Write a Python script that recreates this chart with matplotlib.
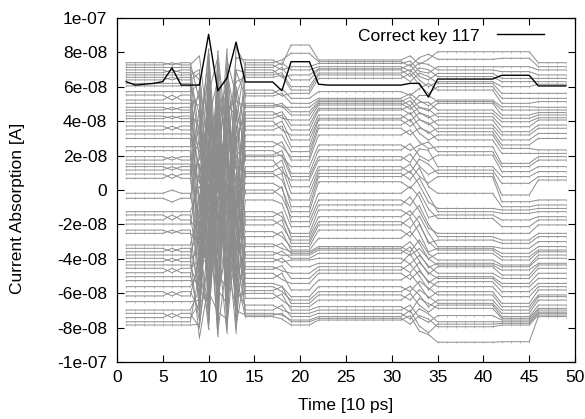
import matplotlib
matplotlib.use('Agg')
import matplotlib.pyplot as plt
import numpy as np

plt.rcParams['font.family'] = ['Liberation Sans', 'DejaVu Sans']

# ---------------- data (current in units of 1e-8 A) ----------------
time_steps = list(range(1, 50))

correct_key_label = "Correct key 117"
correct_key = [6.3, 6.1, 6.15, 6.2, 6.3, 7.1, 6.1, 6.1, 6.1, 9.05,
               5.77, 6.5, 8.6, 6.28, 6.28, 6.28, 6.28, 5.77, 7.46, 7.46,
               7.46, 6.15, 6.1, 6.1, 6.1, 6.1, 6.1, 6.1, 6.1, 6.1,
               6.1, 6.2, 6.2, 5.4, 6.45, 6.45, 6.45, 6.45, 6.45, 6.45,
               6.45, 6.67, 6.67, 6.67, 6.67, 6.05, 6.05, 6.05, 6.05]

# gray traces (other key guesses): levels per time window, same trace order
lv_t1_5 = [7.40, 7.27, 7.13, 6.98, 6.82, 6.69, 6.55, 6.40, 6.20, 6.05,
           5.72, 5.52, 5.23, 5.04, 4.81, 4.65, 4.50, 4.30, 4.15, 3.97, 3.72, 3.49, 3.26, 3.00,
           2.52, 2.29, 1.94, 1.74, 1.51, 1.36, 1.16, 0.93, 0.68,
           -0.19, -0.48,
           -1.26, -1.45, -1.74, -1.98, -2.33, -2.52,
           -3.20, -3.39, -3.59, -3.78, -3.97, -4.17, -4.36, -4.55, -4.81, -5.04, -5.27,
           -5.62, -5.91, -6.16, -6.49,
           -6.98, -7.17, -7.42, -7.66, -7.85]
lv_t6 = [7.27, 7.40, 7.13, 6.82, 6.98, 6.69, 6.40, 6.55, 6.20, 6.05,
         5.72, 5.23, 5.52, 5.04, 4.65, 4.81, 4.50, 4.15, 4.30, 3.97, 3.49, 3.72, 3.26, 3.00,
         2.52, 2.29, 1.74, 1.94, 1.51, 1.16, 1.36, 0.68, 0.93,
         0.00, -0.70,
         -1.26, -1.74, -1.45, -1.98, -2.52, -2.33,
         -3.20, -3.59, -3.39, -3.78, -4.17, -3.97, -4.36, -4.81, -4.55, -5.04, -5.27,
         -5.62, -6.16, -5.91, -6.49,
         -6.98, -7.42, -7.17, -7.66, -7.85]
lv_t7_8 = lv_t1_5
lv_t9 = [5.2, 7.8, 3.1, 6.4, -1.2, 7.0, 2.5, 6.8, 4.4, -2.9,
         6.2, 1.8, 4.9, -3.8, 5.5, 0.9, 3.6, -5.1, 4.0, 2.2, -0.6, 5.9, 1.3, -4.4,
         3.4, -6.2, 0.4, 2.8, -2.1, 1.5, -7.3, 4.7, -1.6,
         -3.3, 2.0,
         0.2, -4.9, -2.6, 1.1, -6.8, -3.0,
         -1.0, -5.6, -2.3, -8.6, -3.6, -0.3, -6.0, -4.1, -7.6, -2.0, -5.3,
         -4.6, -7.0, -3.9, -6.4,
         -5.8, -8.0, -6.6, -4.8, -7.8]
lv_t10 = [-2.4, 3.3, 7.9, -5.7, 6.1, -0.8, 8.2, 1.6, -4.0, 5.0,
          -6.9, 4.3, -1.9, 7.2, 0.6, -3.4, 6.6, 2.6, -7.7, 3.9, 5.6, -2.7, 0.1, 6.9,
          -5.0, 1.9, 7.5, -3.1, 4.6, -6.3, 2.9, -1.3, 5.3,
          -8.1, 3.6,
          -0.5, 6.3, -4.7, 1.2, 4.1, -7.2,
          2.4, -2.2, 5.8, -5.4, 0.8, -6.0, 3.0, -3.7, 1.4, -1.1, 4.8,
          -7.5, 0.3, -4.3, 2.1,
          -6.6, -2.8, -5.9, -0.1, -3.9]
lv_t11 = [6.7, -3.8, 1.0, 8.1, -6.4, 4.2, -1.5, -7.0, 7.4, 0.5,
          3.7, -5.2, 6.0, -2.5, -8.5, 5.1, -0.2, 4.5, 2.3, -6.1, 7.7, -4.2, 3.2, -1.8,
          6.5, 0.0, -3.0, 5.7, -7.9, 2.7, -4.6, 7.0, -2.0,
          1.7, -5.5,
          4.9, -0.9, 3.5, -6.7, 6.4, 0.7,
          -3.5, 2.0, -7.4, 4.0, -1.2, 5.4, -5.8, 1.3, -2.8, -8.3, 3.0,
          -0.4, -6.5, 2.6, -4.9,
          1.0, -3.2, -7.1, 0.5, -5.6]
lv_t12 = [1.5, 6.9, -4.5, 2.8, 7.6, -1.0, 5.4, 3.9, -6.3, 8.2,
          -2.2, 0.9, -5.9, 4.7, 6.2, -7.8, 2.1, -0.7, 5.8, -3.4, 1.7, 7.1, -4.8, 0.3,
          -1.6, 4.4, -8.3, 6.6, 3.1, -2.5, 5.0, -5.3, 2.4,
          -6.8, 0.6,
          -3.7, 3.6, 5.9, -1.9, -7.0, 4.1,
          -0.1, -5.0, 1.8, 6.3, -2.9, 3.3, -6.6, -0.9, 2.7, -4.1, -8.0,
          1.1, 4.8, -3.1, -5.7,
          -1.4, 2.2, -7.5, -4.3, 0.0]
lv_t13 = [7.7, 4.0, 8.3, 1.2, 5.5, 7.0, -2.1, 6.3, 3.4, -5.0,
          6.9, -0.9, 2.5, 5.2, -4.0, 3.0, -7.2, 0.8, -2.6, 6.0, -6.0, 1.9, 4.7, -3.3,
          0.5, -1.4, 5.7, -5.5, 2.0, -8.3, 4.3, -0.3, -3.8,
          3.8, -6.9,
          -2.0, 1.4, -4.6, 4.9, -0.6, -7.6,
          2.9, 0.0, -5.2, -1.8, 3.1, -6.4, 1.0, -3.0, -7.9, 0.4, -2.4,
          -4.4, 1.6, -6.2, -0.8,
          -5.8, -3.6, -1.1, -7.0, -4.9]
lv_t14_17 = [7.56, 7.40, 7.27, 7.13, 6.98, 6.82, 6.69, 6.55,
             5.81, 5.62, 5.47, 5.04, 4.90, 4.81, 4.55, 4.36, 4.17, 4.00, 3.72, 3.49, 3.20,
             2.81, 2.52, 2.29, 2.03, 1.94, 1.74, 1.36, 1.07, 0.97, 0.78, 0.39,
             0.00, -0.19, -0.58,
             -1.26, -1.55, -1.74, -2.03, -2.42, -2.71,
             -3.14, -3.29, -3.59, -3.78, -3.97, -4.17, -4.46, -4.61, -4.84, -5.14, -5.43,
             -5.62, -5.85, -6.01, -6.30,
             -6.69, -6.98, -7.17, -7.27, -7.36]
lv_t18 = [7.27, 7.56, 6.98, 7.40, 6.55, 7.13, 6.82, 6.69,
          5.47, 5.90, 5.62, 4.81, 5.04, 4.90, 4.17, 4.55, 4.36, 3.49, 4.00, 3.72, 3.20,
          2.52, 2.81, 1.94, 2.29, 2.03, 1.07, 1.74, 1.36, 0.58, 0.97, 0.10,
          -0.40, 0.20, -0.80,
          -1.55, -1.26, -2.10, -1.74, -2.71, -2.42,
          -3.40, -3.10, -3.80, -3.55, -4.20, -3.95, -4.70, -4.40, -5.20, -4.84, -5.60,
          -5.90, -5.62, -6.40, -6.05,
          -6.98, -6.69, -7.27, -7.17, -7.50]
lv_t19_21 = [8.43, 7.95, 7.17, 6.98, 6.69, 6.40, 6.01, 5.81, 5.62, 5.33,
             5.04, 4.81, 4.55, 4.36, 4.07, 3.78, 3.49, 3.20, 2.91, 2.52, 2.23, 1.94, 1.74, 1.36,
             0.97, 0.78, 0.58, 0.19, -0.19, -0.58, -0.97, -1.26, -1.55,
             -1.84, -2.13,
             -2.52, -2.71, -2.91, -3.10, -3.29, -3.49,
             -3.59, -3.68, -3.78, -3.97, -4.07, -4.46, -4.84, -5.14, -5.43, -5.81, -6.20,
             -6.40, -6.59, -6.78, -6.98,
             -7.17, -7.36, -7.56, -7.66, -7.85]
lv_t22_31 = [7.56, 7.46, 7.36, 7.17, 7.05, 6.98, 6.80, 6.69, 6.49, 5.72,
             5.33, 5.23, 5.14, 5.04, 4.94, 4.75, 4.65, 4.36, 4.17, 4.07, 3.78, 3.59, 3.20, 2.62,
             2.33, 1.94, 1.74, 1.36, 1.16, 0.97, 0.78, 0.48, -0.19,
             -0.58, -0.87,
             -1.16, -1.55, -1.84, -2.03, -2.33, -2.81,
             -3.29, -3.39, -3.49, -3.68, -3.97, -4.26, -4.46, -4.65, -4.84, -5.23, -5.62,
             -5.91, -6.10, -6.40, -6.78,
             -6.98, -7.17, -7.36, -7.46, -7.56]
lv_t32 = [7.80, 7.20, 7.50, 6.90, 7.30, 6.60, 7.00, 6.30, 6.80, 5.50,
          5.60, 4.90, 5.40, 4.70, 5.20, 4.40, 4.90, 4.00, 4.50, 3.70, 4.10, 3.20, 3.50, 2.30,
          2.70, 1.60, 2.10, 1.00, 1.50, 0.60, 1.10, 0.10, 0.20,
          -0.90, -0.40,
          -1.50, -1.20, -2.20, -1.60, -2.70, -2.40,
          -3.60, -3.00, -3.80, -3.30, -4.30, -3.70, -4.80, -4.30, -5.20, -4.90, -5.90,
          -5.60, -6.40, -6.00, -7.10,
          -6.70, -7.50, -7.00, -7.80, -7.30]
lv_t33 = [7.30, 7.70, 6.90, 7.40, 6.60, 7.10, 6.40, 6.80, 6.10, 5.90,
          5.20, 5.50, 4.80, 5.10, 4.50, 4.80, 4.10, 4.50, 3.70, 4.10, 3.30, 3.60, 2.80, 2.60,
          2.00, 2.40, 1.40, 1.80, 0.80, 1.30, 0.30, 0.70, -0.40,
          -0.10, -1.20,
          -0.90, -1.90, -1.50, -2.50, -2.00, -3.10,
          -2.90, -3.70, -3.40, -4.10, -3.80, -4.60, -4.20, -5.00, -4.70, -5.50, -5.30,
          -6.10, -5.80, -6.70, -6.30,
          -7.40, -6.90, -7.90, -7.30, -8.20]
lv_t34 = [7.60, 7.90, 6.80, 7.30, 6.40, 7.00, 6.00, 6.60, 5.60, 6.20,
          4.90, 5.50, 4.60, 5.10, 4.20, 4.70, 3.80, 4.30, 3.30, 3.90, 2.90, 3.40, 2.40, 2.80,
          1.70, 2.30, 0.90, 1.50, 0.40, 0.20, -0.70, -0.30, -1.60,
          -1.10, -2.20,
          -2.00, -3.10, -2.50, -3.60, -3.00, -4.00,
          -3.70, -4.50, -4.00, -4.90, -4.40, -5.40, -4.80, -5.80, -5.30, -6.30, -5.70,
          -6.80, -6.20, -7.10, -6.60,
          -7.70, -7.20, -8.30, -7.50, -8.40]
lv_t35_41 = [8.04, 7.60, 7.17, 6.98, 6.78, 6.59, 6.30, 6.20, 6.01, 5.81,
             5.23, 5.14, 5.04, 4.65, 4.46, 4.26, 4.07, 3.78, 3.59, 3.39, 3.20, 2.91, 2.52, 2.23,
             2.03, 1.36, 1.16, 0.97, 0.78, -0.19, -1.07, -1.26, -1.45,
             -1.65, -2.52,
             -2.71, -2.91, -3.29, -3.39, -3.49, -3.68,
             -4.07, -4.26, -4.36, -4.46, -4.84, -5.04, -5.14, -5.33, -5.62, -5.91, -6.10,
             -6.40, -6.59, -6.69, -6.88,
             -7.30, -7.66, -7.80, -7.95, -8.85]
lv_t42_45 = [8.04, 7.66, 7.17, 6.88, 6.49, 6.30, 6.01, 5.62, 5.33, 5.04,
             4.84, 4.65, 4.36, 4.17, 3.97, 3.68, 3.39, 3.20, 2.91, 2.62, 2.42, 2.13, 1.55, 1.36,
             1.07, 0.78, 0.39, -0.29, -0.68, -0.97, -1.16, -1.36, -1.74,
             -2.13, -2.52,
             -2.91, -3.10, -3.39, -3.68, -3.88, -4.07,
             -4.36, -4.46, -4.65, -4.94, -5.14, -5.43, -5.62, -5.91, -6.20, -6.59, -6.78,
             -6.98, -7.17, -7.36, -7.46,
             -7.56, -7.66, -7.75, -7.85, -8.82]
lv_t46_49 = [7.40, 7.17, 6.98, 6.69, 6.49, 6.30, 6.15, 5.62, 5.33, 5.14,
             4.81, 4.65, 4.50, 4.36, 4.20, 4.07, 3.78, 3.59, 3.29, 3.00, 2.33, 2.13, 1.94, 1.74,
             1.36, 1.07, 0.78, 0.58, -0.58, -0.87, -1.07, -1.26, -1.55,
             -1.74, -2.03,
             -2.52, -2.71, -3.00, -3.29, -3.49, -3.59,
             -3.78, -3.97, -4.26, -4.36, -4.55, -4.84, -5.14, -5.43, -5.62, -5.81, -6.10,
             -6.20, -6.40, -6.69, -6.88,
             -6.98, -7.10, -7.17, -7.27, -7.36]

# time windows (first step, last step) -> levels
windows = [(1, 5, lv_t1_5), (6, 6, lv_t6), (7, 8, lv_t7_8),
           (9, 9, lv_t9), (10, 10, lv_t10), (11, 11, lv_t11), (12, 12, lv_t12), (13, 13, lv_t13),
           (14, 17, lv_t14_17), (18, 18, lv_t18), (19, 21, lv_t19_21), (22, 31, lv_t22_31),
           (32, 32, lv_t32), (33, 33, lv_t33), (34, 34, lv_t34),
           (35, 41, lv_t35_41), (42, 45, lv_t42_45), (46, 49, lv_t46_49)]

x_ticks = [0, 5, 10, 15, 20, 25, 30, 35, 40, 45, 50]
y_ticks = [-1e-07, -8e-08, -6e-08, -4e-08, -2e-08, 0, 2e-08, 4e-08, 6e-08, 8e-08, 1e-07]
y_tick_labels = ['-1e-07', '-8e-08', '-6e-08', '-4e-08', '-2e-08', '0',
                 '2e-08', '4e-08', '6e-08', '8e-08', '1e-07']

# ---------------- build trace matrix ----------------
n_traces = len(lv_t1_5)
steps = np.array(time_steps)
traces = np.zeros((n_traces, len(time_steps)))
for first, last, levels in windows:
    for t in range(first, last + 1):
        traces[:, time_steps.index(t)] = levels
traces *= 1e-8
black = np.array(correct_key) * 1e-8

# ---------------- plot ----------------
W, H = 585, 419
fig = plt.figure(figsize=(W / 100, H / 100), dpi=100)
ax = fig.add_axes([117 / W, 1 - 362 / H, (575 - 117) / W, (362 - 18) / H])

gray = '#8c8c8c'
for row in traces:
    ax.plot(steps, row, color=gray, lw=0.7, marker='|', ms=2.0, mew=0.4, zorder=2)

ax.plot(steps, black, color='black', lw=1.0, zorder=3, label=correct_key_label)

ax.set_xlim(0, 50)
ax.set_ylim(-1e-07, 1e-07)
ax.set_xticks(x_ticks)
ax.set_xticklabels([str(v) for v in x_ticks])
ax.set_yticks(y_ticks)
ax.set_yticklabels(y_tick_labels)
ax.tick_params(direction='in', length=5, width=0.8, top=True, right=True,
               labelsize=12.5, colors='black')
ax.tick_params(axis='y', pad=7)
ax.tick_params(axis='x', pad=6)
for s in ax.spines.values():
    s.set_linewidth(0.9)

leg = ax.legend(loc='upper right', frameon=False, markerfirst=False,
                handlelength=2.7, handletextpad=1.0, fontsize=12.5,
                borderaxespad=0.2, bbox_to_anchor=(0.955, 1.0))

fig.text(346 / W, 1 - 405 / H, 'Time [10 ps]', ha='center', va='center', fontsize=12.5)
fig.text(18 / W, 1 - 208 / H, 'Current Absorption [A]', ha='center', va='center',
         rotation=90, fontsize=12.5)

fig.savefig('out.png', dpi=100)
